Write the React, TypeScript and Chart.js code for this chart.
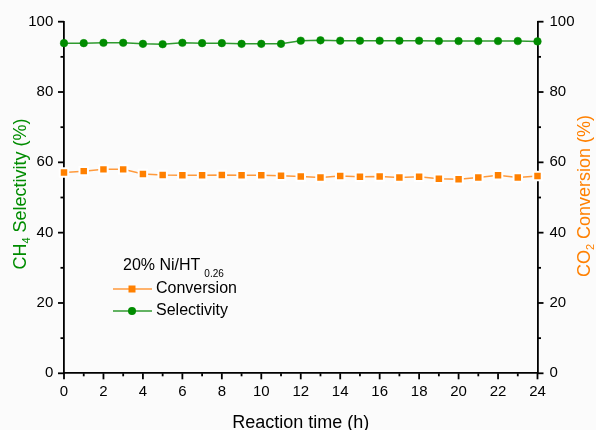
import React, { useEffect, useRef } from 'react';
import { Chart, registerables } from 'chart.js';

Chart.register(...registerables);

const FONT = "'Liberation Sans', Arial, sans-serif";

const hours = [0, 1, 2, 3, 4, 5, 6, 7, 8, 9, 10, 11, 12, 13, 14, 15, 16, 17, 18, 19, 20, 21, 22, 23, 24];
const selectivity = [93.9, 93.9, 94.0, 94.0, 93.7, 93.6, 94.0, 93.9, 93.9, 93.7, 93.7, 93.7, 94.6, 94.7, 94.6, 94.6, 94.6, 94.6, 94.6, 94.5, 94.5, 94.5, 94.5, 94.5, 94.4];
const conversion = [57.1, 57.5, 58.0, 58.0, 56.7, 56.4, 56.3, 56.3, 56.4, 56.3, 56.3, 56.2, 56.0, 55.7, 56.1, 55.9, 56.0, 55.7, 55.9, 55.3, 55.2, 55.7, 56.3, 55.7, 56.1];

const xTickStep = 2;
const yTickStep = 20;
const legendTitle = '20% Ni/HT';
const legendTitleSub = '0.26';
const seriesNames = ['Conversion', 'Selectivity'];
const leftTitle: [string, string, string] = ['CH', '4', ' Selectivity (%)'];
const rightTitle: [string, string, string] = ['CO', '2', ' Conversion (%)'];
const xTitle = 'Reaction time (h)';

const GREEN = '#008c00';
const GREEN_LINE = '#2f9a2f';
const ORANGE = '#ff8000';
const ORANGE_LINE = '#ff9a3c';

function drawSubText(ctx: CanvasRenderingContext2D, parts: [string, string, string], size: number, color: string) {
  const big = `${size}px ${FONT}`;
  const small = `${Math.round(size * 0.62)}px ${FONT}`;
  ctx.font = big;
  const w0 = ctx.measureText(parts[0]).width;
  const w2 = ctx.measureText(parts[2]).width;
  ctx.font = small;
  const w1 = ctx.measureText(parts[1]).width;
  const total = w0 + w1 + w2;
  let x = -total / 2;
  ctx.fillStyle = color;
  ctx.textAlign = 'left';
  ctx.textBaseline = 'alphabetic';
  ctx.font = big;
  ctx.fillText(parts[0], x, 0);
  x += w0;
  ctx.font = small;
  ctx.fillText(parts[1], x, 4);
  x += w1;
  ctx.font = big;
  ctx.fillText(parts[2], x, 0);
}

const decorPlugin = {
  id: 'decor',
  afterDraw(chart: any) {
    const ctx: CanvasRenderingContext2D = chart.ctx;
    const xs = chart.scales.x;
    const ys = chart.scales.y;
    const y1 = chart.scales.y1;
    ctx.save();
    ctx.strokeStyle = '#000';
    ctx.lineWidth = 1.8;
    const line = (a: number, b: number, c: number, d: number) => {
      ctx.beginPath();
      ctx.moveTo(a, b);
      ctx.lineTo(c, d);
      ctx.stroke();
    };
    for (let v = 0; v <= 100; v += 10) {
      const len = v % 20 === 0 ? 6 : 3.5;
      const py = ys.getPixelForValue(v);
      line(ys.right - len, py, ys.right, py);
      const py1 = y1.getPixelForValue(v);
      line(y1.left, py1, y1.left + len, py1);
    }
    for (let h = 0; h <= 24; h += 1) {
      const len = h % 2 === 0 ? 6 : 3;
      const px = xs.getPixelForValue(h);
      line(px, xs.top, px, xs.top + len);
    }

    // axis titles
    ctx.save();
    ctx.translate(26, 194);
    ctx.rotate(-Math.PI / 2);
    drawSubText(ctx, leftTitle, 18, GREEN);
    ctx.restore();

    ctx.save();
    ctx.translate(590, 196);
    ctx.rotate(-Math.PI / 2);
    drawSubText(ctx, rightTitle, 18, ORANGE);
    ctx.restore();

    ctx.fillStyle = '#000';
    ctx.font = `18px ${FONT}`;
    ctx.textAlign = 'center';
    ctx.textBaseline = 'alphabetic';
    ctx.fillText(xTitle, (xs.left + xs.right) / 2, 428);

    // legend
    ctx.textAlign = 'left';
    ctx.font = `16px ${FONT}`;
    ctx.fillStyle = '#000';
    ctx.fillText(legendTitle, 123, 270);
    const wt = ctx.measureText(legendTitle).width;
    ctx.font = `10px ${FONT}`;
    ctx.fillText(legendTitleSub, 123 + wt + 4, 277);

    ctx.lineWidth = 1.5;
    ctx.strokeStyle = ORANGE_LINE;
    line(113, 289, 152, 289);
    ctx.fillStyle = ORANGE;
    ctx.fillRect(132 - 3.5, 289 - 3.5, 7, 7);
    ctx.strokeStyle = GREEN_LINE;
    line(113, 311, 152, 311);
    ctx.fillStyle = GREEN;
    ctx.beginPath();
    ctx.arc(132, 311, 4, 0, Math.PI * 2);
    ctx.fill();

    ctx.fillStyle = '#000';
    ctx.font = `16px ${FONT}`;
    ctx.textBaseline = 'middle';
    ctx.fillText(seriesNames[0], 156, 289);
    ctx.fillText(seriesNames[1], 156, 311);
    ctx.restore();
  },
};

export default function App() {
  const ref = useRef<HTMLCanvasElement | null>(null);
  useEffect(() => {
    if (!ref.current) return;
    const chart = new Chart(ref.current, {
      type: 'line',
      data: {
        datasets: [
          {
            label: seriesNames[0],
            data: hours.map((h, i) => ({ x: h, y: conversion[i] })),
            yAxisID: 'y1',
            borderColor: ORANGE_LINE,
            backgroundColor: ORANGE,
            borderWidth: 1.5,
            pointStyle: 'rect',
            pointRadius: 6,
            pointBorderWidth: 2,
            pointBorderColor: '#ffffff',
            pointBackgroundColor: ORANGE,
            clip: false,
          } as any,
          {
            label: seriesNames[1],
            data: hours.map((h, i) => ({ x: h, y: selectivity[i] })),
            yAxisID: 'y',
            borderColor: GREEN_LINE,
            backgroundColor: GREEN,
            borderWidth: 1.5,
            pointStyle: 'circle',
            pointRadius: 3.8,
            pointBorderWidth: 0.5,
            pointBorderColor: GREEN,
            pointBackgroundColor: GREEN,
            clip: false,
          } as any,
        ],
      },
      options: {
        responsive: false,
        animation: false,
        layout: { padding: { top: 21.7, left: 0, right: 0, bottom: 0 } },
        plugins: { legend: { display: false }, tooltip: { enabled: false }, title: { display: false } },
        scales: {
          x: {
            type: 'linear',
            min: 0,
            max: 24,
            grid: { display: false, drawTicks: true, tickLength: 6 },
            border: { display: true, color: '#000', width: 1.8 },
            ticks: { stepSize: xTickStep, color: '#000', font: { family: FONT, size: 15 }, padding: 4, maxRotation: 0 },
            afterFit: (s: any) => { s.height = 56.7; },
          },
          y: {
            type: 'linear',
            position: 'left',
            min: 0,
            max: 100,
            grid: { display: false, drawTicks: true, tickLength: 6 },
            border: { display: true, color: '#000', width: 1.8 },
            ticks: { stepSize: yTickStep, color: '#000', font: { family: FONT, size: 15 }, padding: 4.7 },
            afterFit: (s: any) => { s.width = 64; },
          },
          y1: {
            type: 'linear',
            position: 'right',
            min: 0,
            max: 100,
            grid: { display: false, drawTicks: true, tickLength: 6 },
            border: { display: true, color: '#000', width: 1.8 },
            ticks: { stepSize: yTickStep, color: '#000', font: { family: FONT, size: 15 }, padding: 6 },
            afterFit: (s: any) => { s.width = 58.5; },
          },
        },
      },
      plugins: [decorPlugin],
    });
    return () => chart.destroy();
  }, []);
  return (
    <div style={{ position: 'absolute', left: 0, top: 0, width: 596, height: 430, background: '#fbfbfb' }}>
      <canvas ref={ref} width={596} height={430} style={{ display: 'block', width: 596, height: 430 }} />
    </div>
  );
}
